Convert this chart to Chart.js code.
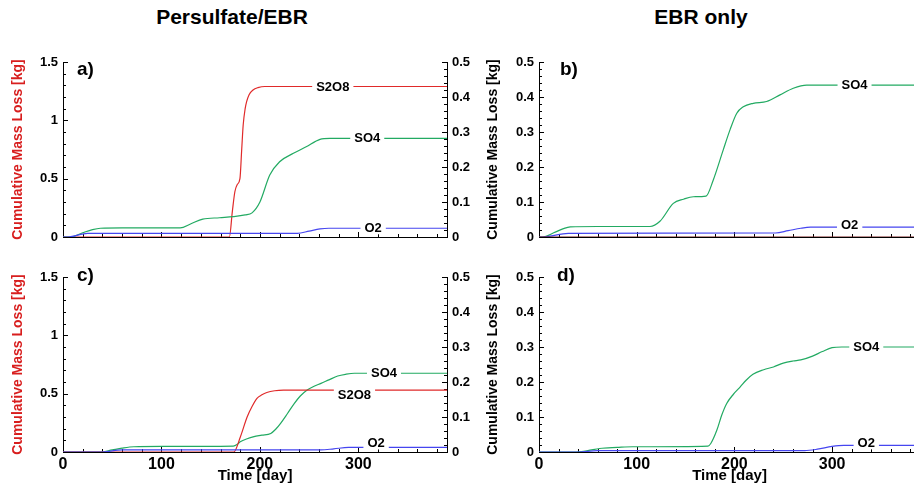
<!DOCTYPE html>
<html>
<head>
<meta charset="utf-8">
<script src="https://cdn.jsdelivr.net/npm/chart.js@4.4.0/dist/chart.umd.min.js"></script>
<style>
  html, body { margin: 0; padding: 0; background: #fff; overflow: hidden; }
  body { width: 914px; height: 487px; position: relative; font-family: "Liberation Sans", Arial, sans-serif; }
  canvas { position: absolute; }
  .col-title { position: absolute; top: 5px; font-weight: bold; font-size: 21px; line-height: 24px;
               transform: translateX(-50%); white-space: nowrap; color: #000; }
</style>
</head>
<body>
<div class="col-title" style="left:232px">Persulfate/EBR</div>
<div class="col-title" style="left:701px">EBR only</div>
<canvas id="panel-a" width="480" height="250" style="left:0;top:0"></canvas>
<canvas id="panel-b" width="446" height="250" style="left:480px;top:0"></canvas>
<canvas id="panel-c" width="480" height="237" style="left:0;top:250px"></canvas>
<canvas id="panel-d" width="446" height="237" style="left:480px;top:250px"></canvas>
<script>
const FONT = '"Liberation Sans", Arial, sans-serif';
const DAY_MAX = 390;

const RED = '#e02a2a';
const GREEN = '#22aa62';
const BLUE = '#4646f0';

// a) persulfate / EBR, upper case  (S2O8 on left axis, SO4 + O2 on right axis)
const daysA_S2O8 = [0, 169, 172, 174.6, 177, 179.7, 181.5, 183, 185, 186.5, 189, 193, 198, 205, 390];
const lossA_S2O8 = [0, 0, 0.22, 0.39, 0.45, 0.5, 0.75, 0.96, 1.1, 1.16, 1.22, 1.26, 1.28, 1.29, 1.29];
const daysA_SO4 = [0, 8, 20, 30, 38, 60, 119, 130, 142, 159, 173, 185, 192, 200, 210, 220, 234, 247, 261, 271, 390];
const lossA_SO4 = [0, 0, 0.012, 0.021, 0.025, 0.026, 0.026, 0.038, 0.051, 0.055, 0.058, 0.063, 0.069, 0.1, 0.177, 0.215, 0.239, 0.258, 0.279, 0.282, 0.282];
const daysA_O2 = [0, 5, 25, 238, 250, 261, 270, 390];
const lossA_O2 = [0, 0, 0.0105, 0.0105, 0.017, 0.023, 0.025, 0.025];

// b) EBR only, upper case
const daysB_S2O8 = [0, 390];
const lossB_S2O8 = [0, 0];
const daysB_SO4 = [0, 4, 15, 25, 32, 60, 113.6, 123.8, 137.5, 148, 158, 171, 178.4, 188.6, 195.5, 202.3, 209.1, 219.3, 233, 246.7, 260.3, 274, 390];
const lossB_SO4 = [0, 0, 0.012, 0.024, 0.029, 0.03, 0.03, 0.045, 0.096, 0.108, 0.115, 0.117, 0.163, 0.249, 0.306, 0.353, 0.372, 0.382, 0.387, 0.406, 0.425, 0.434, 0.434];
const daysB_O2 = [0, 4, 30, 242, 255, 268, 278, 390];
const lossB_O2 = [0, 0, 0.0105, 0.0115, 0.018, 0.025, 0.028, 0.028];

// c) persulfate / EBR, lower case
const daysC_S2O8 = [0, 173.4, 180.2, 187, 192, 197, 202, 207, 215, 224, 390];
const lossC_S2O8 = [0, 0, 0.131, 0.3, 0.39, 0.46, 0.49, 0.51, 0.525, 0.53, 0.53];
const daysC_SO4 = [0, 38, 50, 60, 72, 100, 173, 177, 180, 187, 194, 202, 211, 216, 221, 228, 235, 241, 248, 255, 262, 270, 279, 287, 296, 390];
const lossC_SO4 = [0, 0, 0.006, 0.011, 0.015, 0.016, 0.017, 0.022, 0.029, 0.038, 0.044, 0.048, 0.053, 0.065, 0.082, 0.11, 0.139, 0.16, 0.177, 0.188, 0.196, 0.206, 0.217, 0.222, 0.225, 0.225];
const daysC_O2 = [0, 40, 60, 262, 275, 290, 390];
const lossC_O2 = [0, 0, 0.006, 0.006, 0.009, 0.013, 0.013];

// d) EBR only, lower case
const daysD_SO4 = [0, 38, 50, 62, 80, 96, 173, 176, 182, 187, 192, 199, 206, 212, 219, 230, 240, 250, 260, 268, 280, 290, 300, 310, 390];
const lossD_SO4 = [0, 0, 0.004, 0.01, 0.013, 0.015, 0.017, 0.025, 0.062, 0.105, 0.138, 0.165, 0.186, 0.205, 0.222, 0.235, 0.243, 0.254, 0.26, 0.263, 0.274, 0.287, 0.298, 0.3, 0.3];
const daysD_O2 = [0, 40, 60, 272, 285, 300, 312, 390];
const lossD_O2 = [0, 0, 0.004, 0.004, 0.008, 0.016, 0.019, 0.019];

const last = arr => arr[arr.length - 1];

function series(label, days, loss, color, axis) {
  return {
    label: label,
    data: days.map((d, i) => ({x: d, y: loss[i]})),
    borderColor: color,
    borderWidth: 1.2,
    pointRadius: 0,
    cubicInterpolationMode: 'monotone',
    yAxisID: axis,
    fill: false
  };
}

function isMajor(v, step) {
  const r = v / step;
  return Math.abs(r - Math.round(r)) < 1e-6;
}

function boldFont(size) {
  return {family: FONT, size: size, weight: 'bold'};
}

function xAxis(showLabels, height) {
  return {
    type: 'linear', position: 'bottom', min: 0, max: DAY_MAX,
    major: 100,
    grid: {display: false, drawTicks: false},
    border: {display: true, color: '#000', width: 1},
    ticks: {
      stepSize: 20, autoSkip: false, includeBounds: false, maxRotation: 0, padding: 3,
      color: '#000', font: boldFont(16),
      callback: v => (showLabels && isMajor(v, 100)) ? String(v) : ''
    },
    title: {display: showLabels, text: 'Time [day]', color: '#000', font: boldFont(15), padding: {top: 0, bottom: 2}},
    afterFit: s => { s.height = height; }
  };
}

function yAxis(position, max, step, major, title, width) {
  return {
    type: 'linear', position: position, min: 0, max: max,
    major: major,
    grid: {display: false, drawTicks: false},
    border: {display: true, color: '#000', width: 1},
    ticks: {
      stepSize: step, autoSkip: false, includeBounds: false, padding: 5,
      color: '#000', font: boldFont(13),
      callback: v => isMajor(v, major) ? String(Math.round(v * 10) / 10) : ''
    },
    title: title ? {display: true, text: 'Cumulative Mass Loss [kg]', color: title.color,
                    font: boldFont(14), padding: {top: title.pad, bottom: 0}} : {display: false},
    afterFit: s => { s.width = width; }
  };
}

// inward tick marks, longer on the labelled values
const tickMarks = {
  id: 'tickMarks',
  beforeDatasetsDraw(chart) {
    const ctx = chart.ctx;
    const area = chart.chartArea;
    ctx.save();
    ctx.strokeStyle = '#000';
    ctx.lineWidth = 1;
    ctx.beginPath();
    Object.values(chart.scales).forEach(scale => {
      const step = scale.options.major;
      scale.ticks.forEach(t => {
        const len = isMajor(t.value, step) ? 5 : 3;
        const p = Math.round(scale.getPixelForValue(t.value)) + 0.5;
        if (scale.isHorizontal()) {
          ctx.moveTo(p, area.bottom);
          ctx.lineTo(p, area.bottom - len);
        } else if (scale.position === 'left') {
          ctx.moveTo(area.left, p);
          ctx.lineTo(area.left + len, p);
        } else {
          ctx.moveTo(area.right, p);
          ctx.lineTo(area.right - len, p);
        }
      });
    });
    ctx.stroke();
    ctx.restore();
  }
};

// species names written into the lines, plus the panel letter
const lineLabels = {
  id: 'lineLabels',
  afterDatasetsDraw(chart, args, opts) {
    const ctx = chart.ctx;
    ctx.save();
    ctx.font = 'bold 13px ' + FONT;
    ctx.textAlign = 'center';
    ctx.textBaseline = 'middle';
    (opts.items || []).forEach(item => {
      const px = chart.scales.x.getPixelForValue(item.day);
      const py = chart.scales[item.axis].getPixelForValue(item.value);
      const ty = py + (item.dy || 0);
      const w = ctx.measureText(item.text).width + 8;
      const top = Math.min(py - 2, ty - 6);
      const bottom = Math.max(py + 2, ty + 6);
      ctx.fillStyle = '#fff';
      ctx.fillRect(px - w / 2, top, w, bottom - top);
      ctx.fillStyle = '#000';
      ctx.fillText(item.text, px, ty + 0.5);
    });
    if (opts.letter) {
      ctx.font = 'bold 19px ' + FONT;
      ctx.textAlign = 'left';
      ctx.textBaseline = 'alphabetic';
      ctx.fillStyle = '#000';
      ctx.fillText(opts.letter.text, opts.letter.x, opts.letter.y);
    }
    ctx.restore();
  }
};

function makePanel(id, datasets, scales, padding, plugOpts) {
  return new Chart(document.getElementById(id), {
    type: 'line',
    data: {datasets: datasets},
    options: {
      responsive: false,
      animation: false,
      devicePixelRatio: 1,
      layout: {padding: padding},
      plugins: {
        legend: {display: false},
        tooltip: {enabled: false},
        lineLabels: plugOpts
      },
      scales: scales
    },
    plugins: [tickMarks, lineLabels]
  });
}

makePanel('panel-a', [
    series('O2', daysA_O2, lossA_O2, BLUE, 'y2'),
    series('SO4', daysA_SO4, lossA_SO4, GREEN, 'y2'),
    series('S2O8', daysA_S2O8, lossA_S2O8, RED, 'y')
  ], {
    x: xAxis(false, 13),
    y: yAxis('left', 1.5, 0.1, 0.5, {color: '#d81e1e', pad: 10}, 63),
    y2: yAxis('right', 0.5, 0.02, 0.1, null, 33)
  }, {top: 62, left: 0, right: 0, bottom: 0}, {
    letter: {text: 'a)', x: 77, y: 75},
    items: [
      {text: 'S2O8', day: 274, value: last(lossA_S2O8), axis: 'y'},
      {text: 'SO4', day: 309, value: last(lossA_SO4), axis: 'y2'},
      {text: 'O2', day: 315, value: last(lossA_O2), axis: 'y2'}
    ]
  });

makePanel('panel-b', [
    series('S2O8', daysB_S2O8, lossB_S2O8, '#7a2020', 'y'),
    series('O2', daysB_O2, lossB_O2, BLUE, 'y'),
    series('SO4', daysB_SO4, lossB_SO4, GREEN, 'y')
  ], {
    x: xAxis(false, 13),
    y: yAxis('left', 0.5, 0.02, 0.1, {color: '#000', pad: 5}, 59)
  }, {top: 62, left: 0, right: 6, bottom: 0}, {
    letter: {text: 'b)', x: 80, y: 75},
    items: [
      {text: 'SO4', day: 323, value: last(lossB_SO4), axis: 'y'},
      {text: 'O2', day: 318, value: last(lossB_O2), axis: 'y', dy: -2}
    ]
  });

makePanel('panel-c', [
    series('O2', daysC_O2, lossC_O2, BLUE, 'y2'),
    series('S2O8', daysC_S2O8, lossC_S2O8, RED, 'y'),
    series('SO4', daysC_SO4, lossC_SO4, GREEN, 'y2')
  ], {
    x: xAxis(true, 35),
    y: yAxis('left', 1.5, 0.1, 0.5, {color: '#d81e1e', pad: 10}, 63),
    y2: yAxis('right', 0.5, 0.02, 0.1, null, 33)
  }, {top: 27, left: 0, right: 0, bottom: 0}, {
    letter: {text: 'c)', x: 77, y: 31},
    items: [
      {text: 'SO4', day: 326, value: last(lossC_SO4), axis: 'y2'},
      {text: 'S2O8', day: 296, value: last(lossC_S2O8), axis: 'y', dy: 5},
      {text: 'O2', day: 318, value: last(lossC_O2), axis: 'y2', dy: -5}
    ]
  });

makePanel('panel-d', [
    series('O2', daysD_O2, lossD_O2, BLUE, 'y'),
    series('SO4', daysD_SO4, lossD_SO4, GREEN, 'y')
  ], {
    x: xAxis(true, 35),
    y: yAxis('left', 0.5, 0.02, 0.1, {color: '#000', pad: 5}, 59)
  }, {top: 27, left: 0, right: 6, bottom: 0}, {
    letter: {text: 'd)', x: 77, y: 31},
    items: [
      {text: 'SO4', day: 335, value: last(lossD_SO4), axis: 'y'},
      {text: 'O2', day: 335, value: last(lossD_O2), axis: 'y', dy: -2}
    ]
  });
</script>
</body>
</html>
